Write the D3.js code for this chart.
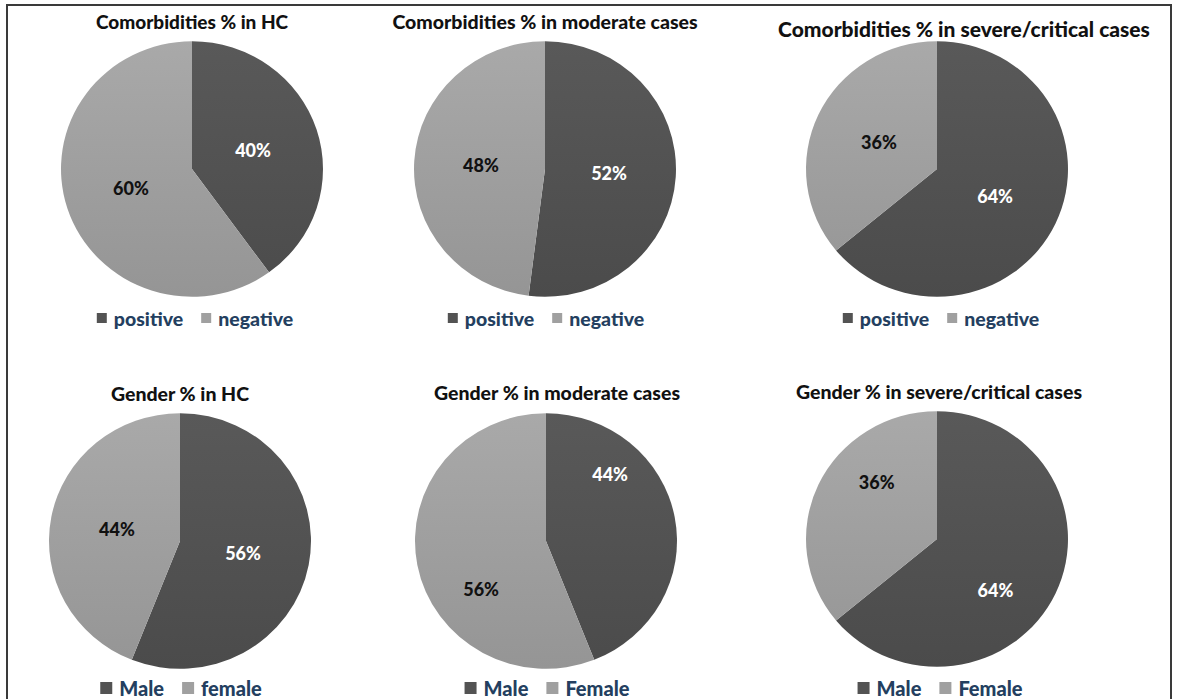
<!DOCTYPE html>
<html>
<head>
<meta charset="utf-8">
<script src="https://cdn.jsdelivr.net/npm/d3@7"></script>
<style>
  html, body { margin: 0; padding: 0; background: #fff; }
  svg { display: block; }
  text { font-family: Lato, "Noto Sans", sans-serif; font-weight: 900; }
</style>
</head>
<body>
<svg id="chart" width="1178" height="699"></svg>
<script>
// Panel titles, left to right, top row then bottom row
const panelTitles = [
  "Comorbidities % in HC",
  "Comorbidities % in moderate cases",
  "Comorbidities % in severe/critical cases",
  "Gender % in HC",
  "Gender % in moderate cases",
  "Gender % in severe/critical cases"
];

// Category names shown in each legend (first = dark slice, second = light slice)
const comorbidityCategories = ["positive", "negative"];
const genderCategoriesHC = ["Male", "female"];
const genderCategories = ["Male", "Female"];

// Percentages per panel
const firstCategoryPct  = [40, 52, 64, 56, 44, 64]; // positive / Male
const secondCategoryPct = [60, 48, 36, 44, 56, 36]; // negative / Female

const panelCategories = [
  comorbidityCategories, comorbidityCategories, comorbidityCategories,
  genderCategoriesHC, genderCategories, genderCategories
];

// ---- layout ----
const pieCX = [192, 545, 937, 180, 546, 937];
const pieCY = [169, 169, 169, 541, 541, 539];
const radius = 131;
const yScale = 0.975;
const titleX = [192, 545, 964, 180, 557, 939];
const titleY = [29, 29, 37, 401, 400, 399];
const titleSize = [19, 19.5, 21, 19.5, 19.5, 19.5];
const legendX = [195, 546, 941, 181, 547, 940];
const legendY = [318, 318, 318, 688, 688, 688];
const legendSize = [19.5, 19.5, 19.5, 20, 20, 20];
const legendSquare = [10, 10, 10, 12, 12, 12];
// label anchors: null = slice centroid; otherwise [angleDeg, radiusFraction] per slice
const labelAnchors = [
  null, null, null, null,
  [[42.8, 0.72], [233, 0.62]],
  [[132, 0.60], [314, 0.64]]
];

const sliceColors = ["dark", "light"];
const legendColors = ["#535353", "#a0a0a0"];
const labelColors = ["#ffffff", "#111111"];

const svg = d3.select("#chart");
const defs = svg.append("defs");

function addGradient(id, top, bottom) {
  const g = defs.append("linearGradient")
    .attr("id", id)
    .attr("gradientUnits", "userSpaceOnUse")
    .attr("x1", 0).attr("y1", -radius).attr("x2", 0).attr("y2", radius);
  g.append("stop").attr("offset", "0%").attr("stop-color", top);
  g.append("stop").attr("offset", "100%").attr("stop-color", bottom);
}
addGradient("dark", "#595959", "#4b4b4b");
addGradient("light", "#a9a9a9", "#959595");

// outer frame
svg.append("rect")
  .attr("x", 7).attr("y", 5)
  .attr("width", 1164).attr("height", 720)
  .attr("fill", "none")
  .attr("stroke", "#3a3a3a")
  .attr("stroke-width", 2);

const pie = d3.pie().sort(null).value(d => d.value);
const arc = d3.arc().innerRadius(0).outerRadius(radius);

panelTitles.forEach((title, i) => {
  const data = [
    { name: panelCategories[i][0], value: firstCategoryPct[i] },
    { name: panelCategories[i][1], value: secondCategoryPct[i] }
  ];
  const arcs = pie(data);

  // title
  svg.append("text")
    .attr("x", titleX[i]).attr("y", titleY[i])
    .attr("text-anchor", "middle")
    .attr("font-size", titleSize[i])
    .attr("fill", "#111")
    .text(title);

  const g = svg.append("g")
    .attr("transform", `translate(${pieCX[i]},${pieCY[i]}) scale(1,${yScale})`);

  g.selectAll("path")
    .data(arcs)
    .join("path")
    .attr("d", arc)
    .attr("fill", (d, k) => `url(#${sliceColors[k]})`);

  // value labels
  const lg = svg.append("g")
    .attr("transform", `translate(${pieCX[i]},${pieCY[i]})`);
  lg.selectAll("text")
    .data(arcs)
    .join("text")
    .attr("transform", (d, k) => {
      let x, y;
      if (labelAnchors[i]) {
        const [deg, f] = labelAnchors[i][k];
        const a = deg * Math.PI / 180;
        x = Math.sin(a) * radius * f;
        y = -Math.cos(a) * radius * f;
      } else {
        const a = (d.startAngle + d.endAngle) / 2;
        x = Math.sin(a) * radius * 0.49;
        y = -Math.cos(a) * radius * 0.49;
      }
      return `translate(${x},${y * yScale})`;
    })
    .attr("text-anchor", "middle")
    .attr("dominant-baseline", "central")
    .attr("font-size", 18)
    .attr("fill", (d, k) => labelColors[k])
    .text(d => d.data.value + "%");

  // legend
  const fs = legendSize[i];
  const sq = legendSquare[i];
  const leg = svg.append("g");
  let cursor = 0;
  data.forEach((d, k) => {
    const item = leg.append("g").attr("transform", `translate(${cursor},0)`);
    item.append("rect")
      .attr("x", 0).attr("y", -sq / 2)
      .attr("width", sq).attr("height", sq)
      .attr("fill", legendColors[k]);
    const t = item.append("text")
      .attr("x", sq + 7).attr("y", 0)
      .attr("dominant-baseline", "central")
      .attr("font-size", fs)
      .attr("fill", "#243f60")
      .text(d.name);
    cursor += sq + 7 + t.node().getComputedTextLength() + 18;
  });
  const total = cursor - 18;
  leg.attr("transform", `translate(${legendX[i] - total / 2},${legendY[i]})`);
});
</script>
</body>
</html>
